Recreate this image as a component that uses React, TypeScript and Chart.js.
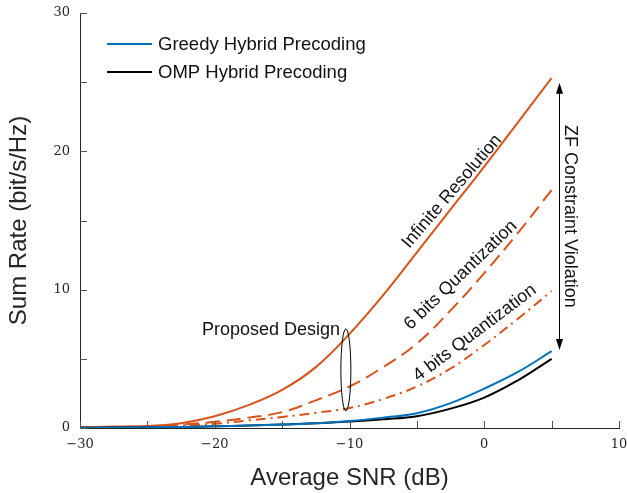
import React, { useEffect, useRef } from "react";
import { Chart, registerables } from "chart.js";

Chart.register(...registerables);

const snr = [-30, -27.5, -25, -22.5, -20, -17.5, -15, -12.5, -10, -7.5, -5, -2.5, 0, 2.5, 5];
const infiniteRes = [0.05, 0.1, 0.15, 0.35, 0.85, 1.65, 2.75, 4.4, 6.8, 9.6, 12.7, 15.8, 18.9, 22.1, 25.3];
const sixBit = [0.03, 0.07, 0.12, 0.25, 0.45, 0.75, 1.15, 2.0, 3.0, 4.4, 6.1, 8.5, 11.2, 14.1, 17.2];
const fourBit = [0.03, 0.06, 0.1, 0.2, 0.3, 0.55, 0.8, 1.1, 1.45, 2.1, 3.0, 4.3, 6.0, 7.9, 9.9];
const greedy = [0.02, 0.03, 0.05, 0.08, 0.12, 0.18, 0.25, 0.35, 0.5, 0.75, 1.07, 1.8, 2.85, 4.05, 5.55];
const omp = [0.02, 0.03, 0.05, 0.08, 0.12, 0.18, 0.25, 0.34, 0.47, 0.63, 0.85, 1.4, 2.2, 3.45, 5.0];

const xTickValues = [-30, -25, -20, -15, -10, -5, 0, 5, 10];
const yTickValues = [0, 5, 10, 15, 20, 25, 30];

const ORANGE = "#D95319";
const BLUE = "#0072BD";
const BLACK = "#000000";
const TEXT = "#262626";
const SANS = "'Liberation Sans', Arial, sans-serif";
const SERIF = "'DejaVu Serif', serif";

const legendItems = [
  { label: "Greedy Hybrid Precoding", color: BLUE },
  { label: "OMP Hybrid Precoding", color: BLACK },
];

const toPts = (ys: number[]) => snr.map((x, i) => ({ x, y: ys[i] }));

const fmt = (v: number) => (v < 0 ? "\u2212" + Math.abs(v) : String(v));

const overlayPlugin = {
  id: "overlay",
  afterDraw(chart: any) {
    const ctx = chart.ctx as CanvasRenderingContext2D;
    const xs = chart.scales.x;
    const ys = chart.scales.y;
    const area = chart.chartArea;
    const px = (v: number) => xs.getPixelForValue(v);
    const py = (v: number) => ys.getPixelForValue(v);
    ctx.save();

    // inward tick marks
    ctx.strokeStyle = "#555";
    ctx.lineWidth = 1;
    xTickValues.forEach((v) => {
      const x = Math.round(px(v)) + 0.5;
      ctx.beginPath();
      ctx.moveTo(x, area.bottom);
      ctx.lineTo(x, area.bottom - 7);
      ctx.stroke();
    });
    yTickValues.forEach((v) => {
      const y = Math.round(py(v)) + 0.5;
      ctx.beginPath();
      ctx.moveTo(area.left, y);
      ctx.lineTo(area.left + 7, y);
      ctx.stroke();
    });

    // legend
    ctx.font = `18.5px ${SANS}`;
    ctx.textBaseline = "middle";
    ctx.textAlign = "left";
    legendItems.forEach((it, i) => {
      const y = 44 + i * 28;
      ctx.strokeStyle = it.color;
      ctx.lineWidth = 2;
      ctx.beginPath();
      ctx.moveTo(107, y);
      ctx.lineTo(152, y);
      ctx.stroke();
      ctx.fillStyle = "#111";
      ctx.fillText(it.label, 158, y + 1);
    });

    // rotated labels along curves
    const rotText = (t: string, x: number, y: number, deg: number, size: number) => {
      ctx.save();
      ctx.translate(px(x), py(y));
      ctx.rotate((deg * Math.PI) / 180);
      ctx.font = `${size}px ${SANS}`;
      ctx.fillStyle = "#111";
      ctx.textAlign = "center";
      ctx.textBaseline = "middle";
      ctx.fillText(t, 0, 0);
      ctx.restore();
    };
    rotText("Infinite Resolution", -2.4, 17.1, -49.5, 18);
    rotText("6 bits Quantization", -1.75, 11.05, -44, 18);
    rotText("4 bits Quantization", -0.7, 6.87, -37, 18);
    rotText("ZF Constraint Violation", 6.35, 15.3, 90, 18);

    // Proposed Design
    ctx.font = `18px ${SANS}`;
    ctx.fillStyle = "#111";
    ctx.textAlign = "right";
    ctx.textBaseline = "middle";
    ctx.fillText("Proposed Design", px(-10.7), py(7.1));
    ctx.strokeStyle = "#000";
    ctx.lineWidth = 1;
    ctx.beginPath();
    ctx.ellipse(px(-10.27), py(4.2), 5, 41, 0, 0, Math.PI * 2);
    ctx.stroke();

    // double arrow
    const ax = Math.round(px(5.53)) + 0.5;
    const y1 = py(24.95);
    const y2 = py(5.64);
    ctx.strokeStyle = "#000";
    ctx.fillStyle = "#000";
    ctx.beginPath();
    ctx.moveTo(ax, y1 + 8);
    ctx.lineTo(ax, y2 - 8);
    ctx.stroke();
    ctx.beginPath();
    ctx.moveTo(ax, y1);
    ctx.lineTo(ax - 3.5, y1 + 11);
    ctx.lineTo(ax + 3.5, y1 + 11);
    ctx.closePath();
    ctx.fill();
    ctx.beginPath();
    ctx.moveTo(ax, y2);
    ctx.lineTo(ax - 3.5, y2 - 11);
    ctx.lineTo(ax + 3.5, y2 - 11);
    ctx.closePath();
    ctx.fill();

    ctx.restore();
  },
};

export default function App() {
  const ref = useRef<HTMLCanvasElement | null>(null);
  useEffect(() => {
    document.body.style.margin = "0";
    const canvas = ref.current;
    if (!canvas) return;
    const chart = new Chart(canvas, {
      type: "line",
      data: {
        datasets: [
          { label: "Greedy Hybrid Precoding", data: toPts(greedy), borderColor: BLUE, borderWidth: 2 },
          { label: "OMP Hybrid Precoding", data: toPts(omp), borderColor: BLACK, borderWidth: 2 },
          { label: "4 bits", data: toPts(fourBit), borderColor: ORANGE, borderWidth: 2, borderDash: [10, 5, 2, 5] },
          { label: "6 bits", data: toPts(sixBit), borderColor: ORANGE, borderWidth: 2, borderDash: [14, 7] },
          { label: "Infinite", data: toPts(infiniteRes), borderColor: ORANGE, borderWidth: 2 },
        ],
      },
      options: {
        responsive: false,
        animation: false,
        elements: {
          point: { radius: 0 },
          line: { tension: 0.4, fill: false },
        },
        layout: { padding: { top: 13, right: 8, left: 0, bottom: 0 } },
        plugins: { legend: { display: false }, tooltip: { enabled: false } },
        scales: {
          x: {
            type: "linear",
            min: -30,
            max: 10,
            grid: { display: false, drawTicks: false },
            border: { display: true, color: TEXT, width: 1 },
            ticks: {
              stepSize: 10,
              padding: 9,
              color: TEXT,
              font: { family: SERIF, size: 13 },
              maxRotation: 0,
              callback: (v: any) => fmt(Number(v)),
            },
            title: {
              display: true,
              text: "Average SNR (dB)",
              color: TEXT,
              font: { family: SANS, size: 24 },
              padding: { top: 7, bottom: 0 },
            },
            afterFit: (s: any) => {
              s.height = 65;
              s.paddingLeft = 0;
              s.paddingRight = 0;
            },
          },
          y: {
            type: "linear",
            min: 0,
            max: 30,
            grid: { display: false, drawTicks: false },
            border: { display: true, color: TEXT, width: 1 },
            ticks: {
              stepSize: 10,
              padding: 10,
              color: TEXT,
              font: { family: SERIF, size: 13 },
              callback: (v: any) => fmt(Number(v)),
            },
            title: {
              display: true,
              text: "Sum Rate (bit/s/Hz)",
              color: TEXT,
              font: { family: SANS, size: 24 },
              padding: { top: 5, bottom: 0 },
            },
            afterFit: (s: any) => {
              s.width = 80;
              s.paddingTop = 0;
              s.paddingBottom = 0;
            },
          },
        },
      },
      plugins: [overlayPlugin],
    });
    return () => chart.destroy();
  }, []);
  return (
    <div style={{ width: 627, height: 493 }}>
      <canvas ref={ref} width={627} height={493} style={{ display: "block" }} />
    </div>
  );
}
